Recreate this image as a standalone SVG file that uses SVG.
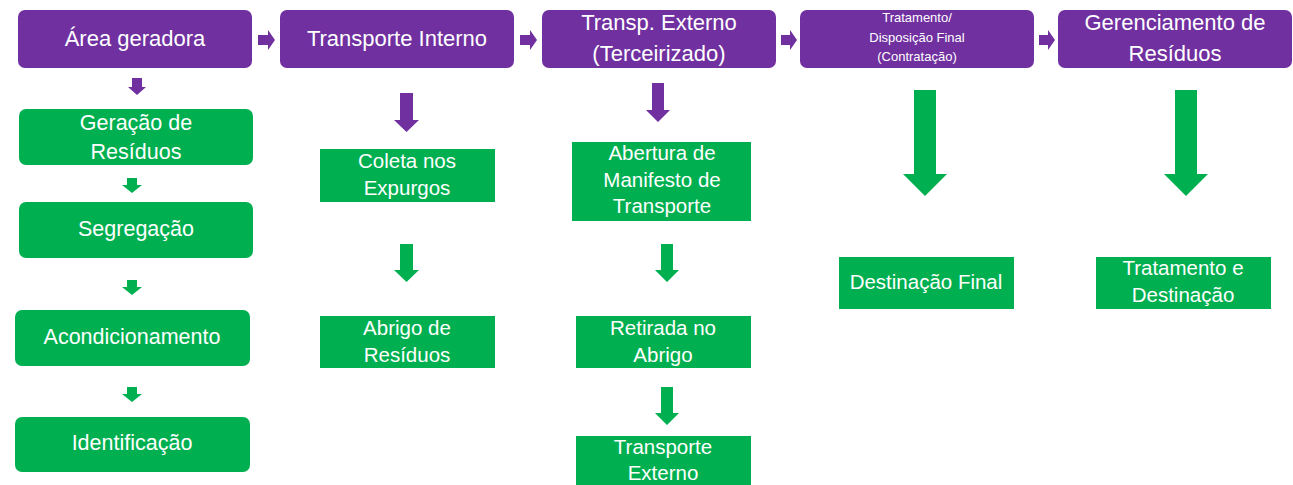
<svg xmlns="http://www.w3.org/2000/svg" width="1293" height="485" viewBox="0 0 1293 485">
<style>
.p{fill:#7030A0}
.g{fill:#00B050}
.t{fill:#FFFFFF;font-family:"Liberation Sans",Arial,sans-serif;text-anchor:middle}
.tp{font-size:22px}
.tg{font-size:20.5px}
.tl{font-size:21.5px}
.ts{font-size:13px}
</style>
<rect width="1293" height="485" fill="#FFFFFF"/>
<g id="connectors">
<path class="p" d="M258,35H268V30L275,40L268,50V45H258Z"/>
<path class="p" d="M520,35H530V30L537,40L530,50V45H520Z"/>
<path class="p" d="M781,35H790V30L797,40L790,50V45H781Z"/>
<path class="p" d="M1039,35H1048V30L1055,40L1048,50V45H1039Z"/>
<path class="p" d="M132,78H142V87H146L137,95L128,87H132Z"/>
<path class="g" d="M127,178H137V185H142L132,193L122,185H127Z"/>
<path class="g" d="M127,280H137V287H142L132,295L122,287H127Z"/>
<path class="g" d="M127,387H137V394H142L132,402L122,394H127Z"/>
<path class="p" d="M400,93H413V120H419L406.5,132L394,120H400Z"/>
<path class="g" d="M400,244H413V270H419L406.5,282L394,270H400Z"/>
<path class="p" d="M652,83H664V110H670L658,122L646,110H652Z"/>
<path class="g" d="M661,244H673V270H679L667,282L655,270H661Z"/>
<path class="g" d="M661,387H673V413H679L667,425L655,413H661Z"/>
<path class="g" d="M914,90H936V174H947L925,196L903,174H914Z"/>
<path class="g" d="M1175,90H1197V174H1208L1186,196L1164,174H1175Z"/>
</g>
<g id="area-geradora"><rect class="p" x="18" y="10" width="234" height="58" rx="7"/><text class="t tp" x="135" y="46">Área geradora</text></g>
<g id="transporte-interno"><rect class="p" x="280" y="10" width="234" height="58" rx="7"/><text class="t tp" x="397" y="46">Transporte Interno</text></g>
<g id="transp-externo"><rect class="p" x="542" y="10" width="234" height="58" rx="7"/><text class="t tp" x="659" y="30">Transp. Externo</text><text class="t tp" x="659" y="61">(Terceirizado)</text></g>
<g id="tratamento-disposicao"><rect class="p" x="800" y="10" width="234" height="58" rx="7"/><text class="t ts" x="917" y="22">Tratamento/</text><text class="t ts" x="917" y="42">Disposição Final</text><text class="t ts" x="917" y="61">(Contratação)</text></g>
<g id="gerenciamento"><rect class="p" x="1058" y="10" width="234" height="58" rx="7"/><text class="t tp" x="1175" y="30">Gerenciamento de</text><text class="t tp" x="1175" y="61">Resíduos</text></g>
<g id="geracao"><rect class="g" x="19" y="109" width="234" height="56" rx="7"/><text class="t tl" x="136" y="130">Geração de</text><text class="t tl" x="136" y="159">Resíduos</text></g>
<g id="segregacao"><rect class="g" x="19" y="202" width="234" height="56" rx="7"/><text class="t tl" x="136" y="236">Segregação</text></g>
<g id="acondicionamento"><rect class="g" x="15" y="310" width="235" height="56" rx="7"/><text class="t tl" x="132" y="344">Acondicionamento</text></g>
<g id="identificacao"><rect class="g" x="15" y="417" width="235" height="55" rx="7"/><text class="t tl" x="132" y="450">Identificação</text></g>
<g id="coleta"><rect class="g" x="320" y="149" width="175" height="53"/><text class="t tg" x="407" y="168">Coleta nos</text><text class="t tg" x="407" y="195">Expurgos</text></g>
<g id="abrigo"><rect class="g" x="320" y="316" width="175" height="52"/><text class="t tg" x="407" y="335">Abrigo de</text><text class="t tg" x="407" y="362">Resíduos</text></g>
<g id="abertura"><rect class="g" x="572" y="142" width="179" height="79"/><text class="t tg" x="662" y="160">Abertura de</text><text class="t tg" x="662" y="187">Manifesto de</text><text class="t tg" x="662" y="213">Transporte</text></g>
<g id="retirada"><rect class="g" x="576" y="316" width="175" height="52"/><text class="t tg" x="663" y="335">Retirada no</text><text class="t tg" x="663" y="362">Abrigo</text></g>
<g id="transporte-externo"><rect class="g" x="576" y="436" width="175" height="55"/><text class="t tg" x="663" y="454">Transporte</text><text class="t tg" x="663" y="480">Externo</text></g>
<g id="destinacao-final"><rect class="g" x="839" y="257" width="175" height="52"/><text class="t tg" x="926" y="289">Destinação Final</text></g>
<g id="tratamento-destinacao"><rect class="g" x="1096" y="257" width="175" height="52"/><text class="t tg" x="1183" y="275">Tratamento e</text><text class="t tg" x="1183" y="302">Destinação</text></g>
</svg>
